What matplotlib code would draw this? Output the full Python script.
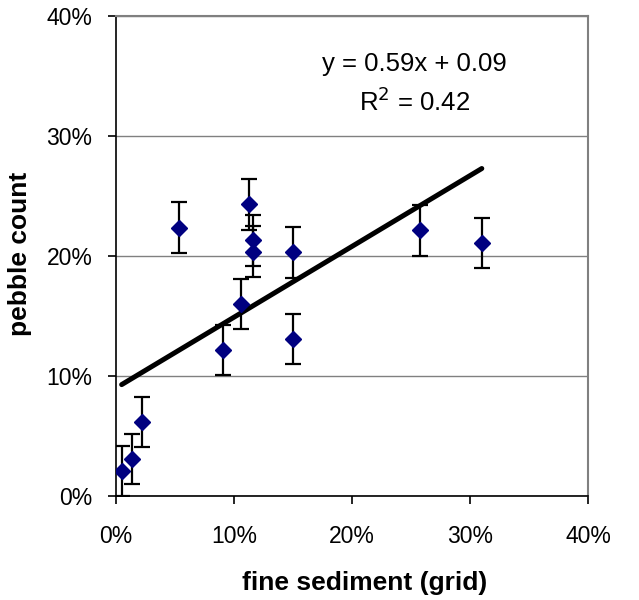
import matplotlib
matplotlib.use("Agg")
import matplotlib.pyplot as plt
import numpy as np
from matplotlib.ticker import PercentFormatter

plt.rcParams['font.family'] = ['Liberation Sans', 'DejaVu Sans']

# fine sediment (grid) vs pebble count, as fractions
fine_sediment = [0.0048, 0.0136, 0.0223, 0.0534, 0.0910, 0.1059, 0.1124,
                 0.1164, 0.1164, 0.1500, 0.1500, 0.2576, 0.3100]
pebble_count = [0.0208, 0.0310, 0.0619, 0.2236, 0.1217, 0.1600, 0.2430,
                0.2130, 0.2036, 0.2030, 0.1308, 0.2214, 0.2110]
pebble_err = [0.021] * len(pebble_count)

# linear trendline
slope = 0.59
intercept = 0.09
r_squared = 0.42

tick_vals = [0.0, 0.1, 0.2, 0.3, 0.4]

fig = plt.figure(figsize=(6.39, 6.0), dpi=100)
ax = fig.add_axes([116 / 639, 1 - 496 / 600, 472 / 639, 480 / 600])

ax.set_xlim(0, 0.4)
ax.set_ylim(0, 0.4)
ax.set_xticks(tick_vals)
ax.set_yticks(tick_vals)
ax.xaxis.set_major_formatter(PercentFormatter(1.0, decimals=0))
ax.yaxis.set_major_formatter(PercentFormatter(1.0, decimals=0))

ax.grid(axis='y', color='#808080', linewidth=1.0)
ax.set_axisbelow(True)

for side in ('top', 'right'):
    ax.spines[side].set_color('#808080')
    ax.spines[side].set_linewidth(1.5)
for side in ('left', 'bottom'):
    ax.spines[side].set_color('black')
    ax.spines[side].set_linewidth(1.2)

ax.tick_params(axis='both', direction='out', length=6, width=1.2,
               labelsize=16.5, color='black')
ax.tick_params(axis='y', pad=11)
ax.tick_params(axis='x', pad=15)

# trendline across the data range
xs = np.array([min(fine_sediment), max(fine_sediment)])
ax.plot(xs, slope * xs + intercept, color='black', linewidth=3.6,
        solid_capstyle='round', zorder=2)

ax.errorbar(fine_sediment, pebble_count, yerr=pebble_err, fmt='none',
            ecolor='black', elinewidth=1.6, capsize=6, capthick=1.6, zorder=3)
ax.plot(fine_sediment, pebble_count, linestyle='none', marker='D',
        markersize=8.5, color='#000080', markeredgecolor='#000080', zorder=4)

ax.text(0.633, 0.90, f'y = {slope:.2f}x + {intercept:.2f}',
        transform=ax.transAxes, ha='center', va='center', fontsize=18.5)
ax.text(0.633, 0.822, f'R$^2$ = {r_squared:.2f}',
        transform=ax.transAxes, ha='center', va='center', fontsize=18.5)

ax.set_xlabel('fine sediment (grid)', fontsize=19, fontweight='bold')
ax.set_ylabel('pebble count', fontsize=19, fontweight='bold')
ax.xaxis.set_label_coords(0.527, -0.181)
ax.yaxis.set_label_coords(-0.203, 0.505)
ax.xaxis.label.set_va('center')
ax.yaxis.label.set_va('center')

fig.savefig('out.png', dpi=100, facecolor='white')
